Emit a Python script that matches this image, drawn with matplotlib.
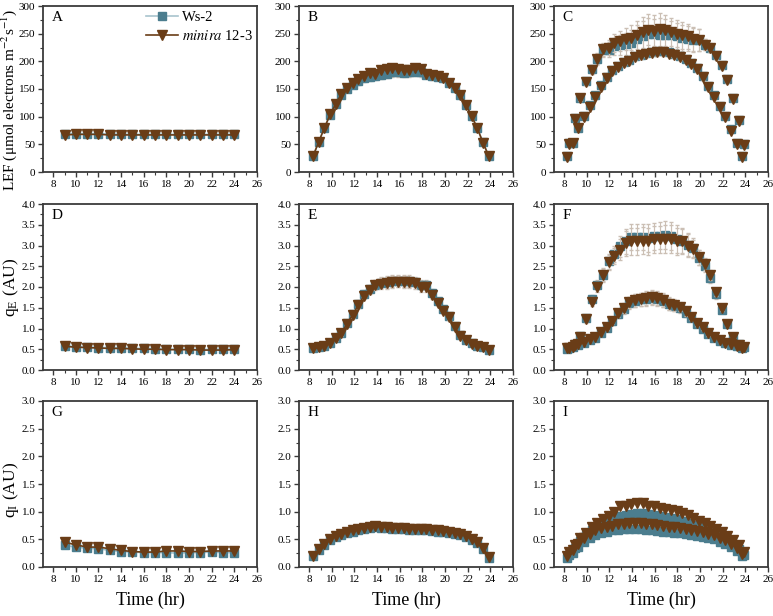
import numpy as np
import matplotlib
matplotlib.use("Agg")
from matplotlib import pyplot as plt
from matplotlib.ticker import MultipleLocator, FormatStrFormatter

plt.rcParams['font.family'] = ['Liberation Serif', 'DejaVu Serif']
plt.rcParams['mathtext.fontset'] = 'stix'

# ---- data ----
# column 1: constant light, hourly
t_const = [9, 10, 11, 12, 13, 14, 15, 16, 17, 18, 19, 20, 21, 22, 23, 24]
lef_const_ws = [69, 69, 69, 69, 69, 68, 68, 68, 68, 68, 68, 68, 68, 68, 68, 68]
lef_const_mi = [67, 68, 68, 68, 67, 67, 67, 67, 67, 67, 67, 67, 67, 67, 67, 67]
qe_const_ws = [0.58, 0.56, 0.55, 0.54, 0.54, 0.53, 0.52, 0.52, 0.51, 0.5, 0.5, 0.5, 0.49, 0.5, 0.5, 0.5]
qe_const_mi = [0.57, 0.55, 0.54, 0.53, 0.52, 0.52, 0.51, 0.5, 0.5, 0.49, 0.49, 0.49, 0.48, 0.48, 0.48, 0.49]
qi_const_ws = [0.39, 0.36, 0.34, 0.33, 0.3, 0.28, 0.27, 0.26, 0.26, 0.26, 0.25, 0.26, 0.26, 0.27, 0.26, 0.26]
qi_const_mi = [0.45, 0.4, 0.36, 0.36, 0.33, 0.3, 0.28, 0.27, 0.27, 0.29, 0.29, 0.28, 0.28, 0.29, 0.29, 0.29]

# column 2: sinusoidal light, every 30 min
t_sin = [8.35, 8.85, 9.35, 9.85, 10.35, 10.85, 11.35, 11.85, 12.35, 12.85, 13.35, 13.85,
         14.35, 14.85, 15.35, 15.85, 16.35, 16.85, 17.35, 17.85, 18.35, 18.85, 19.35, 19.85,
         20.35, 20.85, 21.35, 21.85, 22.35, 22.85, 23.35, 23.85]
lef_sin_ws = [29, 55, 80, 103, 122, 140, 150, 158, 164, 169, 172, 173, 176, 178, 180, 180,
              179, 180, 181, 180, 176, 174, 172, 169, 161, 151, 139, 121, 101, 79, 54, 29]
lef_sin_mi = [29, 55, 80, 104, 123, 141, 151, 161, 168, 174, 179, 178, 184, 186, 188, 186,
              184, 185, 188, 186, 178, 175, 174, 170, 160, 151, 139, 121, 101, 79, 53, 29]
lef_sin_err = [2, 3, 4, 4, 5, 5, 5, 6, 6, 7, 7, 7, 8, 8, 8, 8,
               8, 8, 8, 8, 7, 7, 6, 6, 6, 5, 5, 4, 4, 3, 3, 2]
qe_sin_ws = [0.52, 0.55, 0.59, 0.65, 0.77, 0.9, 1.14, 1.35, 1.6, 1.83, 1.95, 2.06, 2.1, 2.12, 2.14, 2.15,
             2.15, 2.14, 2.12, 2.05, 2.04, 1.85, 1.66, 1.48, 1.3, 1.05, 0.84, 0.72, 0.64, 0.59, 0.55, 0.49]
qe_sin_mi = [0.52, 0.55, 0.58, 0.64, 0.76, 0.88, 1.12, 1.33, 1.57, 1.79, 1.92, 2.04, 2.08, 2.09, 2.12, 2.13,
             2.12, 2.11, 2.09, 2.0, 1.99, 1.8, 1.62, 1.43, 1.27, 1.03, 0.82, 0.72, 0.63, 0.59, 0.55, 0.48]
qe_sin_err = [0.03, 0.03, 0.03, 0.04, 0.05, 0.05, 0.06, 0.07, 0.08, 0.09, 0.1, 0.12, 0.13, 0.14, 0.14, 0.14,
              0.14, 0.14, 0.13, 0.12, 0.12, 0.1, 0.08, 0.07, 0.06, 0.05, 0.04, 0.04, 0.03, 0.03, 0.03, 0.03]
qi_sin_ws = [0.19, 0.31, 0.4, 0.48, 0.54, 0.58, 0.61, 0.64, 0.67, 0.69, 0.71, 0.72, 0.71, 0.7, 0.69, 0.68,
             0.68, 0.67, 0.67, 0.66, 0.66, 0.65, 0.64, 0.63, 0.61, 0.6, 0.58, 0.54, 0.48, 0.43, 0.33, 0.17]
qi_sin_mi = [0.2, 0.32, 0.42, 0.5, 0.56, 0.6, 0.63, 0.66, 0.69, 0.71, 0.73, 0.75, 0.73, 0.72, 0.71, 0.7,
             0.7, 0.69, 0.69, 0.68, 0.68, 0.67, 0.66, 0.65, 0.63, 0.62, 0.6, 0.56, 0.5, 0.45, 0.35, 0.18]

# column 3: fluctuating light, two interleaved levels
t_hi = [8.42, 8.92, 9.42, 9.92, 10.42, 10.92, 11.42, 11.92, 12.42, 12.92, 13.42, 13.92,
        14.42, 14.92, 15.42, 15.92, 16.42, 16.92, 17.42, 17.92, 18.42, 18.92, 19.42, 19.92,
        20.42, 20.92, 21.42, 21.92, 22.42, 22.92, 23.42, 23.92]
t_lo = [8.24, 8.74, 9.24, 9.74, 10.24, 10.74, 11.24, 11.74, 12.24, 12.74, 13.24, 13.74,
        14.24, 14.74, 15.24, 15.74, 16.24, 16.74, 17.24, 17.74, 18.24, 18.74, 19.24, 19.74,
        20.24, 20.74, 21.24, 21.74, 22.24, 22.74, 23.24, 23.74]
lef_hi_ws = [52, 97, 134, 164, 186, 205, 220, 221, 227, 230, 232, 234, 240, 245, 250, 249,
             248, 248, 247, 246, 242, 241, 238, 238, 230, 225, 211, 193, 168, 134, 94, 50]
lef_hi_mi = [51, 96, 133, 163, 185, 204, 222, 225, 233, 237, 240, 243, 248, 253, 257, 255,
             258, 256, 253, 250, 247, 245, 240, 238, 230, 225, 210, 192, 166, 132, 92, 48]
lef_hi_err = [3, 4, 5, 6, 8, 10, 12, 14, 16, 18, 20, 22, 25, 28, 28, 28,
              30, 28, 25, 24, 24, 22, 22, 20, 10, 8, 6, 5, 5, 4, 4, 3]
lef_lo_ws = [29, 53, 80, 101, 121, 139, 157, 171, 184, 192, 199, 203, 209, 212, 215, 217,
             218, 218, 216, 213, 209, 205, 197, 188, 173, 156, 139, 120, 101, 77, 53, 29]
lef_lo_mi = [28, 52, 79, 99, 118, 136, 153, 169, 182, 190, 197, 201, 207, 211, 213, 215,
             216, 216, 214, 211, 207, 203, 195, 186, 171, 153, 136, 117, 99, 75, 51, 28]
lef_lo_err = [2, 2, 3, 3, 3, 4, 4, 4, 5, 5, 5, 5, 5, 6, 6, 6,
              6, 6, 6, 5, 5, 5, 5, 5, 4, 4, 4, 3, 3, 3, 2, 2]
qe_hi_ws = [0.54, 0.62, 0.82, 1.25, 1.7, 2.05, 2.3, 2.62, 2.8, 2.98, 3.1, 3.2, 3.2, 3.2, 3.18, 3.22,
            3.24, 3.26, 3.22, 3.16, 3.12, 3.02, 2.95, 2.7, 2.5, 2.22, 1.82, 1.45, 1.1, 0.8, 0.62, 0.55]
qe_hi_mi = [0.53, 0.6, 0.8, 1.22, 1.65, 2.0, 2.28, 2.6, 2.75, 2.9, 3.05, 3.1, 3.1, 3.12, 3.1, 3.15,
            3.15, 3.15, 3.15, 3.1, 3.1, 3.0, 2.92, 2.72, 2.55, 2.28, 1.88, 1.5, 1.12, 0.8, 0.6, 0.55]
qe_hi_err = [0.03, 0.04, 0.05, 0.08, 0.1, 0.12, 0.15, 0.18, 0.2, 0.25, 0.3, 0.32, 0.32, 0.32, 0.33, 0.33,
             0.33, 0.34, 0.34, 0.33, 0.3, 0.27, 0.22, 0.18, 0.15, 0.12, 0.1, 0.08, 0.06, 0.05, 0.04, 0.03]
qe_lo_ws = [0.5, 0.55, 0.6, 0.65, 0.72, 0.78, 0.9, 1.02, 1.17, 1.35, 1.47, 1.62, 1.67, 1.7, 1.72, 1.74,
            1.72, 1.67, 1.59, 1.55, 1.5, 1.38, 1.25, 1.1, 1.0, 0.86, 0.78, 0.7, 0.64, 0.61, 0.57, 0.52]
qe_lo_mi = [0.52, 0.56, 0.62, 0.67, 0.74, 0.8, 0.92, 1.04, 1.19, 1.37, 1.49, 1.63, 1.68, 1.7, 1.73, 1.76,
            1.73, 1.69, 1.6, 1.57, 1.53, 1.41, 1.28, 1.14, 1.03, 0.88, 0.8, 0.72, 0.66, 0.63, 0.59, 0.54]
qe_lo_err = [0.03, 0.03, 0.03, 0.04, 0.04, 0.05, 0.06, 0.07, 0.08, 0.1, 0.12, 0.14, 0.15, 0.16, 0.17, 0.17,
             0.17, 0.16, 0.15, 0.14, 0.12, 0.1, 0.08, 0.07, 0.06, 0.05, 0.04, 0.04, 0.03, 0.03, 0.03, 0.03]
qi_hi_ws = [0.22, 0.35, 0.47, 0.57, 0.66, 0.74, 0.8, 0.85, 0.88, 0.92, 0.94, 0.96, 0.97, 0.97, 0.95, 0.94,
            0.92, 0.9, 0.88, 0.86, 0.83, 0.8, 0.76, 0.72, 0.68, 0.64, 0.59, 0.54, 0.48, 0.41, 0.33, 0.22]
qi_hi_mi = [0.28, 0.4, 0.52, 0.62, 0.72, 0.8, 0.86, 0.93, 1.0, 1.1, 1.11, 1.13, 1.15, 1.15, 1.1, 1.11,
            1.07, 1.05, 1.03, 1.02, 0.98, 0.94, 0.89, 0.84, 0.79, 0.74, 0.68, 0.63, 0.56, 0.48, 0.4, 0.28]
qi_lo_ws = [0.17, 0.26, 0.36, 0.45, 0.52, 0.57, 0.61, 0.64, 0.66, 0.67, 0.68, 0.69, 0.69, 0.68, 0.67, 0.66,
            0.65, 0.64, 0.63, 0.62, 0.61, 0.6, 0.58, 0.56, 0.55, 0.53, 0.5, 0.46, 0.42, 0.36, 0.29, 0.2]
qi_lo_mi = [0.2, 0.3, 0.42, 0.52, 0.6, 0.66, 0.7, 0.73, 0.75, 0.77, 0.78, 0.79, 0.8, 0.79, 0.78, 0.77,
            0.76, 0.74, 0.73, 0.72, 0.71, 0.69, 0.67, 0.65, 0.63, 0.6, 0.57, 0.53, 0.48, 0.42, 0.34, 0.24]

ws_col = '#4b7d8e'
ws_line = '#a8c4cd'
mi_col = '#6a3d17'
err_col = '#cbbfb4'

W, H = 773, 616
fig = plt.figure(figsize=(W / 100, H / 100), dpi=100)

col_left = [43, 299, 554]
row_top = [6, 204, 401]
ax_w, ax_h = 214, 166


def make_ax(r, c):
    ax = fig.add_axes([col_left[c] / W, 1 - (row_top[r] + ax_h) / H, ax_w / W, ax_h / H])
    for s in ax.spines.values():
        s.set_color('#3a3a3a')
        s.set_linewidth(1.3)
    ax.set_xlim(7.1, 26)
    ax.xaxis.set_major_locator(MultipleLocator(2))
    ax.xaxis.set_minor_locator(MultipleLocator(1))
    ax.tick_params(which='both', direction='out', top=False, right=False, labelsize=8,
                   color='#3a3a3a', pad=2)
    ax.tick_params(which='major', length=3.5, width=1)
    ax.tick_params(which='minor', length=2, width=0.8)
    return ax


def draw(ax, x, ws, mi, err_ws=None, err_mi=None, line=True):
    ls = '-' if line else 'none'
    ax.errorbar(x, ws, yerr=err_ws, color=ws_line, ls=ls, lw=1.2, marker='s', ms=5.5,
                mfc=ws_col, mec=ws_col, ecolor=err_col, elinewidth=0.8, capsize=1.5,
                label='Ws-2', zorder=2)
    ax.errorbar(x, mi, yerr=err_mi, color=mi_col, ls=ls, lw=1.2, marker='v', ms=6.5,
                mfc=mi_col, mec=mi_col, ecolor=err_col, elinewidth=0.8, capsize=1.5,
                label=r'$\mathit{minira}$ 12-3', zorder=3)


lef_axes = [make_ax(0, c) for c in range(3)]
qe_axes = [make_ax(1, c) for c in range(3)]
qi_axes = [make_ax(2, c) for c in range(3)]

for ax in lef_axes:
    ax.set_ylim(0, 300)
    ax.yaxis.set_major_locator(MultipleLocator(50))
    ax.yaxis.set_minor_locator(MultipleLocator(25))
for ax in qe_axes:
    ax.set_ylim(0, 4)
    ax.yaxis.set_major_locator(MultipleLocator(0.5))
    ax.yaxis.set_minor_locator(MultipleLocator(0.25))
    ax.yaxis.set_major_formatter(FormatStrFormatter('%.1f'))
for ax in qi_axes:
    ax.set_ylim(0, 3)
    ax.yaxis.set_major_locator(MultipleLocator(0.5))
    ax.yaxis.set_minor_locator(MultipleLocator(0.25))
    ax.yaxis.set_major_formatter(FormatStrFormatter('%.1f'))

# constant light
draw(lef_axes[0], t_const, lef_const_ws, lef_const_mi)
draw(qe_axes[0], t_const, qe_const_ws, qe_const_mi)
draw(qi_axes[0], t_const, qi_const_ws, qi_const_mi)

# sinusoidal light
draw(lef_axes[1], t_sin, lef_sin_ws, lef_sin_mi, err_ws=lef_sin_err)
draw(qe_axes[1], t_sin, qe_sin_ws, qe_sin_mi, err_ws=qe_sin_err, err_mi=qe_sin_err)
draw(qi_axes[1], t_sin, qi_sin_ws, qi_sin_mi)

# fluctuating light
draw(lef_axes[2], t_hi, lef_hi_ws, lef_hi_mi, err_ws=lef_hi_err, err_mi=lef_hi_err, line=False)
draw(lef_axes[2], t_lo, lef_lo_ws, lef_lo_mi, err_ws=lef_lo_err, err_mi=lef_lo_err, line=False)
draw(qe_axes[2], t_hi, qe_hi_ws, qe_hi_mi, err_ws=qe_hi_err, err_mi=qe_hi_err, line=False)
draw(qe_axes[2], t_lo, qe_lo_ws, qe_lo_mi, err_ws=qe_lo_err, err_mi=qe_lo_err, line=False)
draw(qi_axes[2], t_hi, qi_hi_ws, qi_hi_mi, line=False)
draw(qi_axes[2], t_lo, qi_lo_ws, qi_lo_mi, line=False)

letters = ['A', 'B', 'C', 'D', 'E', 'F', 'G', 'H', 'I']
for ax, letter in zip(lef_axes + qe_axes + qi_axes, letters):
    ax.text(0.04, 0.97, letter, transform=ax.transAxes, ha='left', va='top', fontsize=11)

# y labels placed in figure coordinates, left of the tick labels
fig.text(9 / W, 1 - 100 / H, r'LEF ($\mathregular{\mu}$mol electrons m$^{-2}$s$^{-1}$)',
         rotation=90, ha='center', va='center', fontsize=11)
fig.text(11 / W, 1 - 287 / H, r'q$_\mathregular{E}$ (AU)',
         rotation=90, ha='center', va='center', fontsize=12.5)
fig.text(11 / W, 1 - 490 / H, r'q$_\mathregular{I}$ (AU)',
         rotation=90, ha='center', va='center', fontsize=12.5)

lef_axes[0].legend(loc='upper right', bbox_to_anchor=(1.03, 1.03), frameon=False, fontsize=10.5,
                   handlelength=2.2, handletextpad=0.3, labelspacing=0.3, borderpad=0.2)

for c in range(3):
    fig.text((col_left[c] + ax_w / 2) / W, 1 - 600 / H, 'Time (hr)', ha='center', va='center',
             fontsize=13)

fig.savefig('out.png', dpi=100)
